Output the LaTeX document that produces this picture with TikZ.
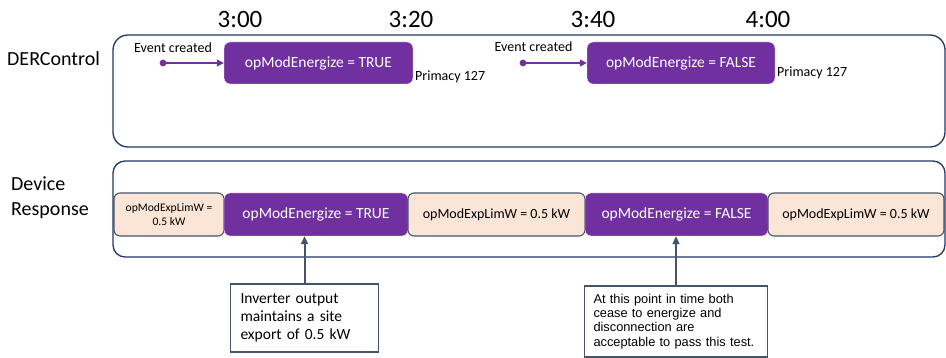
\documentclass[tikz,border=0pt]{standalone}
\usepackage{fontspec}
\setmainfont{Carlito}
\newfontfamily\arialfont{Liberation Sans}
\usetikzlibrary{arrows.meta}
\definecolor{dernavy}{RGB}{31,56,100}
\definecolor{derpurple}{RGB}{112,48,160}
\definecolor{derpeach}{RGB}{251,229,214}
\definecolor{derslate}{RGB}{68,84,106}

\begin{document}
\begin{tikzpicture}[x=1pt,y=-1pt,
  lane/.style={draw=dernavy,line width=1.3pt},
  ctrlbox/.style={draw=white,fill=derpurple,text=white,rounded corners=6pt,inner sep=0pt,
    minimum height=42pt,font=\fontsize{15.5}{18}\selectfont},
  limbox/.style={draw=derslate,line width=1.1pt,fill=derpeach,rounded corners=6pt,inner sep=0pt,
    minimum height=43pt,font=\fontsize{14}{16}\selectfont},
  notebox/.style={draw=derslate,line width=1.8pt,fill=white,inner sep=0pt,align=left},
  evtarrow/.style={derpurple,line width=1.4pt,-{Triangle[length=7pt,width=7pt]}},
  notearrow/.style={derslate,line width=2pt,-{Triangle[length=8pt,width=7pt]}}]
\useasboundingbox (0,0) rectangle (946,358);

% Time axis
\node (t300) at (240,19) {\fontsize{25}{28}\selectfont 3:00};
\node (t320) at (411,19) {\fontsize{25}{28}\selectfont 3:20};
\node (t340) at (593,19) {\fontsize{25}{28}\selectfont 3:40};
\node (t400) at (768,19) {\fontsize{25}{28}\selectfont 4:00};

% DERControl lane
\draw[lane,rounded corners=15pt] (113,35) rectangle (945,147);
\node[anchor=west,inner sep=0pt] (dertitle) at (7,59) {\fontsize{20}{24}\selectfont DERControl};

\node[ctrlbox,minimum width=189pt] (ctrltrue) at (318.5,63) {opModEnergize = TRUE};
\node[ctrlbox,minimum width=188pt] (ctrlfalse) at (681,63) {opModEnergize = FALSE};

\coordinate (dot1) at (163,63);
\coordinate (dot2) at (523,63);
\fill[derpurple] (dot1) circle (3.4pt);
\fill[derpurple] (dot2) circle (3.4pt);
\draw[evtarrow] (dot1) -- (ctrltrue.west);
\draw[evtarrow] (dot2) -- (ctrlfalse.west);
\node (created1) at (173,48) {\fontsize{14}{16}\selectfont Event created};
\node (created2) at (533.5,47) {\fontsize{14}{16}\selectfont Event created};

\node[anchor=west,inner sep=1pt] (prim1) at (414,77) {\fontsize{14}{16}\selectfont Primacy 127};
\node[anchor=west,inner sep=1pt] (prim2) at (776,73) {\fontsize{14}{16}\selectfont Primacy 127};

% Device response lane
\draw[lane,rounded corners=12pt] (113,161) rectangle (945,257);
\node[anchor=west,inner sep=0pt,align=left,font=\fontsize{20}{25}\selectfont] (devtitle) at (11,197.5)
  {Device\\Response};

\node[limbox,minimum width=110pt,align=center,font=\fontsize{11.6}{14}\selectfont] (lim1) at (169,214.5)
  {opModExpLimW =\\0.5 kW};
\node[ctrlbox,minimum width=184pt,minimum height=43pt] (resptrue) at (316,214.5) {opModEnergize = TRUE};
\node[limbox,minimum width=177pt] (lim2) at (496.5,214.5) {opModExpLimW = 0.5 kW};
\node[ctrlbox,minimum width=183pt,minimum height=43pt] (respfalse) at (676.5,214.5) {opModEnergize = FALSE};
\node[limbox,minimum width=176pt] (lim3) at (856,214.5) {opModExpLimW = 0.5 kW};

% Notes
\node[notebox,minimum width=148pt,minimum height=68pt,text width=128pt,
  font=\fontsize{15.5}{18}\selectfont] (note1) at (304.5,318)
  {Inverter output\\maintains a site\\export of 0.5 kW};
\node[notebox,minimum width=183pt,minimum height=71pt,text width=165pt,
  font=\arialfont\fontsize{12.8}{14.3}\selectfont] (note2) at (676,321.5)
  {At this point in time both\\cease to energize and\\disconnection are\\acceptable to pass this test.};

\draw[notearrow] (note1.north) -- (note1.north |- resptrue.south);
\draw[notearrow] (note2.north) -- (note2.north |- respfalse.south);
\end{tikzpicture}
\end{document}
